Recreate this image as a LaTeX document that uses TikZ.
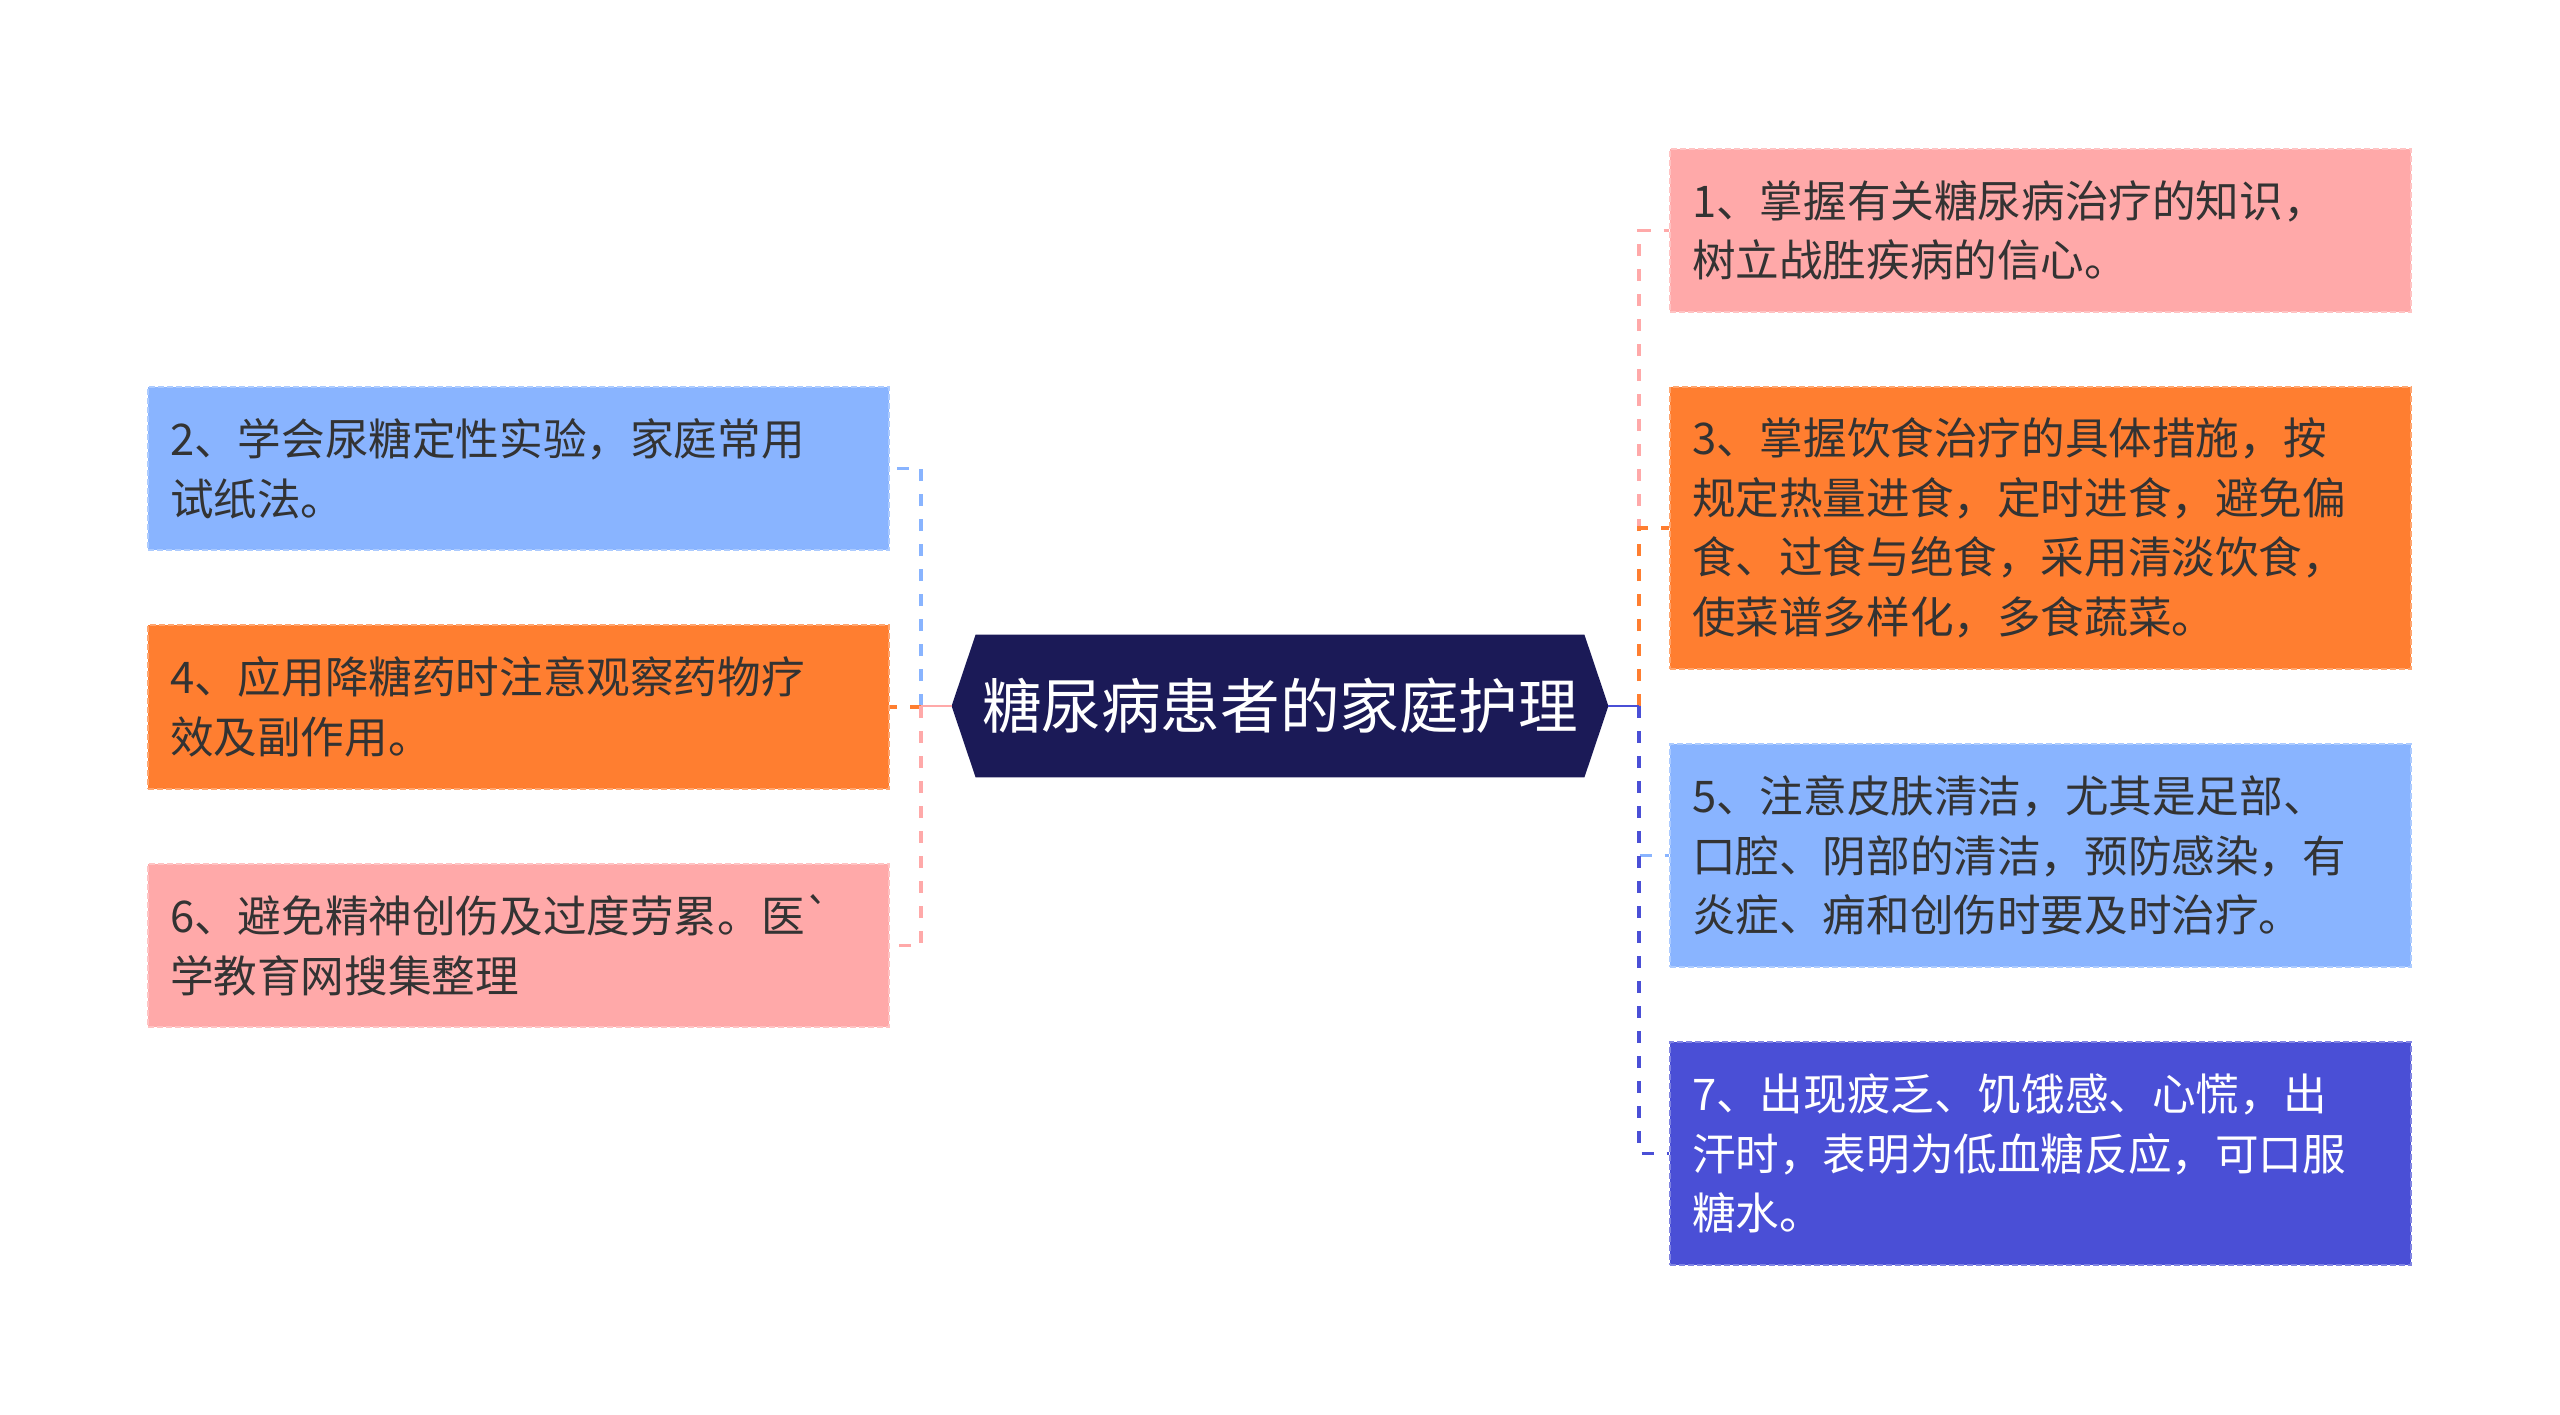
\documentclass[tikz,border=0pt]{standalone}
\usepackage{fontspec}
\newfontfamily\cjk{Noto Sans CJK SC}
\usepackage{tikz}
\usetikzlibrary{backgrounds}
\definecolor{pinkc}{HTML}{FFA9A9}
\definecolor{orangec}{HTML}{FF7E30}
\definecolor{skyc}{HTML}{89B4FF}
\definecolor{bluec}{HTML}{4A4FD6}
\definecolor{navyc}{HTML}{1B1A57}
\definecolor{inkc}{HTML}{333333}

\begin{document}
\begin{tikzpicture}[x=0.5pt,y=-0.5pt,
	root/.style={shape=rectangle,minimum width=328pt,minimum height=71pt,inner sep=0pt,text=white,font=\cjk\fontsize{29.8pt}{34pt}\selectfont},
	box/.style={shape=rectangle,fill=#1,draw=#1!70!white,dash pattern=on 3pt off 1.5pt,line width=0.8pt,text width=348.5pt,inner xsep=11pt,inner ysep=0pt,align=left,text=inkc,font=\cjk\fontsize{21.8pt}{29.8pt}\selectfont},
	link/.style={line width=1.8pt,dash pattern=on 6pt off 6.5pt},
	stub/.style={line width=1.4pt}]
	\useasboundingbox (0,0) rectangle (2560,1414);
	\node[root] (root) at (1280,706) {糖尿病患者的家庭护理};
	\begin{scope}[on background layer]
	\fill[navyc] (root.west) -- ([xshift=12pt]root.north west) -- ([xshift=-12pt]root.north east) -- (root.east) -- ([xshift=-12pt]root.south east) -- ([xshift=12pt]root.south west) -- cycle;
	\end{scope}
	\node[box=pinkc,minimum height=81.5pt] (b1) at (2040.5,230.5) {1、掌握有关糖尿病治疗的知识，\\树立战胜疾病的信心。};
	\node[box=orangec,minimum height=141pt] (b3) at (2040.5,528) {3、掌握饮食治疗的具体措施，按\\规定热量进食，定时进食，避免偏\\食、过食与绝食，采用清淡饮食，\\使菜谱多样化，多食蔬菜。};
	\node[box=skyc,minimum height=111.5pt] (b5) at (2040.5,855.5) {5、注意皮肤清洁，尤其是足部、\\口腔、阴部的清洁，预防感染，有\\炎症、痈和创伤时要及时治疗。};
	\node[box=bluec,minimum height=111.5pt,text=white] (b7) at (2040.5,1153.5) {7、出现疲乏、饥饿感、心慌，出\\汗时，表明为低血糖反应，可口服\\糖水。};
	\node[box=skyc,minimum height=81.5pt] (b2) at (518.5,468.5) {2、学会尿糖定性实验，家庭常用\\试纸法。};
	\node[box=orangec,minimum height=82pt] (b4) at (518.5,707) {4、应用降糖药时注意观察药物疗\\效及副作用。};
	\node[box=pinkc,minimum height=81.5pt] (b6) at (518.5,945.5) {6、避免精神创伤及过度劳累。医`\\学教育网搜集整理};
	\coordinate (rt) at (1639,706);
	\coordinate (lt) at (921,706);
	\draw[link,pinkc] (rt) |- (b1.west);
	\draw[link,orangec] (rt) |- (b3.west);
	\draw[link,skyc] (rt) |- (b5.west);
	\draw[link,bluec] (rt) |- (b7.west);
	\draw[link,skyc] (lt) |- (b2.east);
	\draw[link,orangec] (lt) |- (b4.east);
	\draw[link,pinkc] (lt) |- (b6.east);
	\draw[stub,bluec] (root.east) -- (rt);
	\draw[stub,pinkc] (root.west) -- (lt);
\end{tikzpicture}
\end{document}
